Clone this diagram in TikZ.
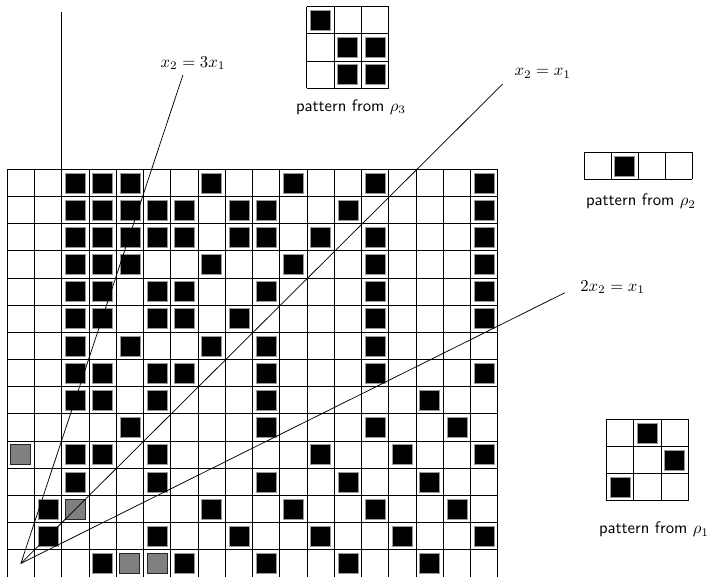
\documentclass[tikz,border=0pt]{standalone}
\begin{document}
\begin{tikzpicture}[x=0.6pt,y=-0.6pt,
  gridline/.style={line width=0.6pt},
  blk/.style={fill=black,draw=black!40,line width=0.4pt},
  gry/.style={fill=black!50,draw=black!85,line width=0.5pt},
  ray/.style={line width=0.45pt},
  lbl/.style={font=\sffamily,inner sep=0pt},
  eq/.style={inner sep=0pt}]
\useasboundingbox[fill=white] (0,0) rectangle (713,577);
\def\gx{7.3}\def\gy{169.3}\def\cw{27.25}\def\ch{27.18}
% black cells of the big grid
\foreach \r/\cs in {0/{2,3,4,7,10,13,17},1/{2,3,4,5,6,8,9,12,17},2/{2,3,4,5,6,8,9,11,13,17},
  3/{2,3,4,7,10,13,17},4/{2,3,5,6,9,13,17},5/{2,3,5,6,8,13,17},6/{2,4,7,9,13},
  7/{2,3,5,6,9,13,17},8/{2,3,5,9,15},9/{4,9,13,16},10/{2,3,5,11,14,17},
  11/{2,5,9,12,15},12/{1,7,10,13,16},13/{1,5,8,11,14,17},14/{3,6,9,12,15}}{
  \foreach \c in \cs {
    \path[blk] ({\gx+\cw*\c+3.6},{\gy+\ch*\r+3.6}) rectangle ++(20,20);
  }
}
% grey cells
\foreach \c/\r in {0/10,2/12,4/14,5/14}{
  \path[gry] ({\gx+\cw*\c+3.6},{\gy+\ch*\r+3.6}) rectangle ++(20,20);
}
% grid lines
\foreach \i in {0,...,18}{\draw[gridline] ({\gx+\cw*\i},\gy) -- ({\gx+\cw*\i},{\gy+15*\ch});}
\foreach \j in {0,...,15}{\draw[gridline] (\gx,{\gy+\ch*\j}) -- ({\gx+18*\cw},{\gy+\ch*\j});}
% vertical axis stub
\coordinate (Vt) at (61.8,11.7);
\coordinate (Vb) at (61.8,169.3);
\draw[gridline] (Vt) -- (Vb);
% rays
\coordinate (O) at (20.9,563.4);
\coordinate (E3) at (182.9,75);
\coordinate (E1) at (502.7,84);
\coordinate (E12) at (565,292.7);
\draw[ray] (O) -- (E3);
\draw[ray] (O) -- (E1);
\draw[ray] (O) -- (E12);
\node[eq] (L3) at (193,63.3) {$x_2 = 3x_1$};
\node[eq] (L1) at (542.7,73.3) {$x_2 = x_1$};
\node[eq,anchor=west] (L12) at (580,287) {$2x_2 = x_1$};
% pattern rho3
\def\px{306.7}\def\py{6.5}\def\pc{27.3}
\foreach \c/\r in {0/0,1/1,2/1,1/2,2/2}{\path[blk] ({\px+\pc*\c+3.6},{\py+\pc*\r+3.6}) rectangle ++(20,20);}
\foreach \i in {0,...,3}{\draw[gridline] ({\px+\pc*\i},\py) -- ({\px+\pc*\i},{\py+3*\pc});
  \draw[gridline] (\px,{\py+\pc*\i}) -- ({\px+3*\pc},{\py+\pc*\i});}
\node[lbl] (P3) at (351,107) {pattern from $\rho_3$};
% pattern rho2
\def\qx{584}\def\qy{152.3}\def\qc{27.1}
\path[blk] ({\qx+\qc+3.6},{\qy+3.6}) rectangle ++(20,20);
\foreach \i in {0,...,4}{\draw[gridline] ({\qx+\qc*\i},\qy) -- ({\qx+\qc*\i},{\qy+\qc});}
\foreach \j in {0,1}{\draw[gridline] (\qx,{\qy+\qc*\j}) -- ({\qx+4*\qc},{\qy+\qc*\j});}
\node[lbl] (P2) at (641,201.7) {pattern from $\rho_2$};
% pattern rho1
\def\sx{606.7}\def\sy{419.3}\def\sc{27.2}
\foreach \c/\r in {1/0,2/1,0/2}{\path[blk] ({\sx+\sc*\c+3.6},{\sy+\sc*\r+3.6}) rectangle ++(20,20);}
\foreach \i in {0,...,3}{\draw[gridline] ({\sx+\sc*\i},\sy) -- ({\sx+\sc*\i},{\sy+3*\sc});
  \draw[gridline] (\sx,{\sy+\sc*\i}) -- ({\sx+3*\sc},{\sy+\sc*\i});}
\node[lbl] (P1) at (654,529.3) {pattern from $\rho_1$};
\end{tikzpicture}
\end{document}
